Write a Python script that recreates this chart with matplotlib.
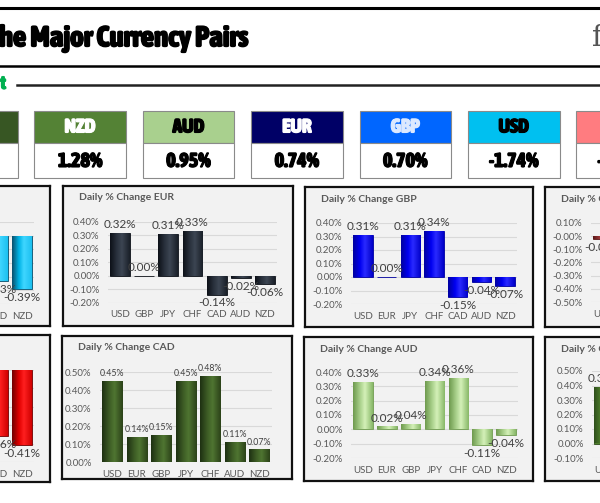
import numpy as np
import matplotlib
matplotlib.use('Agg')
import matplotlib.pyplot as plt
from matplotlib.colors import LinearSegmentedColormap
from matplotlib.patches import Rectangle
from matplotlib.lines import Line2D
from matplotlib import patheffects as pe
from matplotlib import font_manager as fm

W, H = 600, 503

# ---------------- data ----------------
title_text = "he Major Currency Pairs"
strength_names = ['CAD', 'NZD', 'AUD', 'EUR', 'GBP', 'USD', 'JPY']
strength_values = [1.85, 1.28, 0.95, 0.74, 0.70, -1.74, -1.80]

usd_pairs = ['EUR', 'GBP', 'JPY', 'CHF', 'CAD', 'AUD', 'NZD']
usd_changes = [-0.32, -0.31, 0.02, 0.01, -0.45, -0.33, -0.39]
eur_pairs = ['USD', 'GBP', 'JPY', 'CHF', 'CAD', 'AUD', 'NZD']
eur_changes = [0.32, 0.00, 0.31, 0.33, -0.14, -0.02, -0.06]
gbp_pairs = ['USD', 'EUR', 'JPY', 'CHF', 'CAD', 'AUD', 'NZD']
gbp_changes = [0.31, 0.00, 0.31, 0.34, -0.15, -0.04, -0.07]
jpy_pairs = ['USD', 'EUR', 'GBP', 'CHF', 'CAD', 'AUD', 'NZD']
jpy_changes = [-0.02, -0.31, -0.31, 0.02, -0.45, -0.34, -0.39]
chf_pairs = ['USD', 'EUR', 'GBP', 'JPY', 'CAD', 'AUD', 'NZD']
chf_changes = [-0.01, -0.33, -0.34, -0.02, -0.48, -0.36, -0.41]
cad_pairs = ['USD', 'EUR', 'GBP', 'JPY', 'CHF', 'AUD', 'NZD']
cad_changes = [0.45, 0.14, 0.15, 0.45, 0.48, 0.11, 0.07]
aud_pairs = ['USD', 'EUR', 'GBP', 'JPY', 'CHF', 'CAD', 'NZD']
aud_changes = [0.33, 0.02, 0.04, 0.34, 0.36, -0.11, -0.04]
nzd_pairs = ['USD', 'EUR', 'GBP', 'JPY', 'CHF', 'CAD', 'AUD']
nzd_changes = [0.39, 0.06, 0.07, 0.39, 0.41, -0.07, 0.04]

# ---------------- fonts ----------------
names = {f.name for f in fm.fontManager.ttflist}
BODY = 'Lato' if 'Lato' in names else 'DejaVu Sans'


def _w(f):
    w = f.weight
    if isinstance(w, str):
        w = fm.weight_dict.get(w, 400)
    return int(w)


def pick_condensed():
    best = None
    for f in fm.fontManager.ttflist:
        st = str(f.stretch).lower()
        nm = f.name.lower()
        fn = f.fname.lower().split('/')[-1]
        if 'mono' in nm or ('serif' in nm and 'sans' not in nm):
            continue
        if 'cjk' in nm:
            continue
        cond = ('condensed' in st and 'semi' not in st) or 'narrow' in nm or 'narrow' in fn \
            or ('condensed' in fn and 'semi' not in fn) or 'condensed' in nm
        if not cond:
            continue
        if 'italic' in fn or 'oblique' in fn or f.style != 'normal':
            continue
        score = -abs(_w(f) - 800)
        if best is None or score > best[0]:
            best = (score, f)
    return best[1] if best else None


_cf = pick_condensed()
if _cf is not None:
    COND = fm.FontProperties(fname=_cf.fname)
else:
    COND = fm.FontProperties(family='DejaVu Sans', weight='bold')


def cprops(size):
    p = COND.copy()
    p.set_size(size)
    if _cf is None:
        p.set_weight('bold')
    return p


def px_rect(x0, y0, x1, y1):
    return [x0 / W, 1 - y1 / H, (x1 - x0) / W, (y1 - y0) / H]


fig = plt.figure(figsize=(W / 100, H / 100), dpi=100)
fig.patch.set_facecolor('white')


def fx(x):
    return x / W


def fy(y):
    return 1 - y / H


# ---------------- header ----------------
fig.add_artist(Line2D([0, 1], [fy(8), fy(8)], color='black', lw=2.2))
fig.add_artist(Line2D([0, 1], [fy(66), fy(66)], color='black', lw=1.8))
fig.add_artist(Line2D([fx(17), 1], [fy(85), fy(85)], color='#222222', lw=1.8))
thick = [pe.withStroke(linewidth=0.9, foreground='black')]
fig.text(fx(249), fy(38), title_text, ha='right', va='center',
         fontproperties=cprops(21), color='black', path_effects=thick)
fig.text(fx(597), fy(38), 'f', ha='center', va='center', fontsize=21,
         family='DejaVu Serif', color='#555555')
fig.text(fx(6), fy(84), 't', ha='right', va='center', fontproperties=cprops(14),
         color='#00b050', path_effects=[pe.withStroke(linewidth=0.6, foreground='#00b050')])

# ---------------- strength boxes ----------------
box_colors = ['#375623', '#548235', '#a9d08e', '#000066', '#0066ff', '#00c0f0', '#ff7c80']
box_text_colors = ['white', 'white', 'black', 'white', '#dce9ff', 'black', 'black']
box_w = 91.5
for i, (nm, val) in enumerate(zip(strength_names, strength_values)):
    x0 = 34.4 + (i - 1) * 108.4
    x1 = x0 + box_w
    fig.add_artist(Rectangle((fx(x0), fy(143)), (x1 - x0) / W, 32 / H,
                             transform=fig.transFigure, facecolor=box_colors[i],
                             edgecolor='#8a8a8a', lw=0.8))
    fig.add_artist(Rectangle((fx(x0), fy(178)), (x1 - x0) / W, 35 / H,
                             transform=fig.transFigure, facecolor='white',
                             edgecolor='#8a8a8a', lw=0.8))
    tc = box_text_colors[i]
    fig.text(fx((x0 + x1) / 2), fy(127.5), nm, ha='center', va='center',
             fontproperties=cprops(14), color=tc,
             path_effects=[pe.withStroke(linewidth=0.8, foreground=tc)])
    fig.text(fx((x0 + x1) / 2), fy(161), f'{val:.2f}%', ha='center', va='center',
             fontproperties=cprops(14.5), color='black',
             path_effects=[pe.withStroke(linewidth=0.8, foreground='black')])

# ---------------- panels ----------------
grad = np.linspace(0, 1, 64)[None, :]


def make_cmap(cols):
    return LinearSegmentedColormap.from_list('g', list(zip([0, 0.35, 0.6, 1.0], cols)))


panels = [
    dict(title='Daily % Change USD', pairs=usd_pairs, vals=usd_changes,
         panel=(-180, 186, 50, 326), plot=(-134, 222, 34, 304), yl=(-0.5, 0.1),
         cols=['#0b4f6c', '#00b4e6', '#3fd6ff', '#1cc0f0'], ls=8.5),
    dict(title='Daily % Change EUR', pairs=eur_pairs, vals=eur_changes,
         panel=(63, 186, 293, 326), plot=(108, 221.7, 277, 302.7), yl=(-0.2, 0.4),
         cols=['#0d1118', '#2a323e', '#3c4552', '#1a2029'], ls=8.5),
    dict(title='Daily % Change GBP', pairs=gbp_pairs, vals=gbp_changes,
         panel=(305, 187, 533, 327), plot=(351, 223, 517, 304), yl=(-0.2, 0.4),
         cols=['#0000a0', '#0000f0', '#2a2aff', '#0000c8'], ls=8.5),
    dict(title='Daily % Change JPY', pairs=jpy_pairs, vals=jpy_changes,
         panel=(545, 187, 775, 327), plot=(591, 223, 757, 302), yl=(-0.5, 0.1),
         cols=['#5a1818', '#a03838', '#b85050', '#7a2626'], ls=8.5),
    dict(title='Daily % Change CHF', pairs=chf_pairs, vals=chf_changes,
         panel=(-180, 335, 50, 482), plot=(-134, 370, 34, 462), yl=(-0.5, 0.0),
         cols=['#700000', '#e00000', '#ff2020', '#d00000'], ls=8.5),
    dict(title='Daily % Change CAD', pairs=cad_pairs, vals=cad_changes,
         panel=(62, 336, 292, 479), plot=(100, 372, 271.5, 462), yl=(0.0, 0.5),
         cols=['#1e3012', '#3d5c25', '#4f7531', '#2c4219'], ls=6.3),
    dict(title='Daily % Change AUD', pairs=aud_pairs, vals=aud_changes,
         panel=(304, 337, 533, 481), plot=(351, 372, 518, 458), yl=(-0.2, 0.4),
         cols=['#6e9a4e', '#a8d08a', '#d4f0b8', '#88b868'], ls=8.5),
    dict(title='Daily % Change NZD', pairs=nzd_pairs, vals=nzd_changes,
         panel=(545, 337, 775, 481), plot=(592, 371, 759, 458), yl=(-0.1, 0.5),
         cols=['#2f4f1c', '#4f7f2c', '#5c8f36', '#3a6022'], ls=8.5),
]

for p in panels:
    x0, y0, x1, y1 = p['panel']
    bg = fig.add_axes(px_rect(x0, y0, x1, y1), zorder=1)
    bg.set_facecolor('#f2f2f2')
    bg.set_xticks([])
    bg.set_yticks([])
    for s in bg.spines.values():
        s.set_color('#111111')
        s.set_linewidth(1.6)
    fig.text(fx(x0 + 16), fy(y0 + 12), p['title'], ha='left', va='center',
             fontsize=7.5, fontweight='bold', family=BODY, color='#595959', zorder=5)

    ax = fig.add_axes(px_rect(*p['plot']), zorder=2)
    ax.set_facecolor('none')
    xs = np.arange(len(p['pairs']))
    cmap = make_cmap(p['cols'])
    bars = ax.bar(xs, p['vals'], width=0.82, color=p['cols'][1],
                  edgecolor=p['cols'][0], lw=0.6, zorder=2)
    for b, v in zip(bars, p['vals']):
        if v != 0:
            im = ax.imshow(grad, cmap=cmap, aspect='auto', zorder=3,
                           extent=(b.get_x(), b.get_x() + b.get_width(), min(0, v), max(0, v)))
            im.set_clip_path(b)
        off = 2.0 if v >= 0 else -2.0
        ax.annotate(f'{v:.2f}%', (b.get_x() + b.get_width() / 2, v),
                    xytext=(0, off), textcoords='offset points', ha='center',
                    va='bottom' if v >= 0 else 'top', fontsize=p['ls'],
                    family=BODY, color='#404040', annotation_clip=False, zorder=4)
    ax.set_xlim(-0.5, len(xs) - 0.5)
    ax.set_ylim(*p['yl'])
    ticks = np.round(np.arange(p['yl'][0], p['yl'][1] + 0.001, 0.1), 2)
    ax.set_yticks(ticks)
    ax.set_yticklabels([f'{t:.2f}%' for t in ticks])
    ax.set_xticks(xs)
    ax.set_xticklabels(p['pairs'])
    ax.tick_params(length=0, labelsize=7, labelcolor='#595959', pad=5.5)
    ax.tick_params(axis='y', pad=6)
    for t in ax.get_xticklabels() + ax.get_yticklabels():
        t.set_family(BODY)
    ax.yaxis.grid(True, color='#d9d9d9', lw=0.8)
    ax.set_axisbelow(True)
    for s in ax.spines.values():
        s.set_visible(False)

fig.savefig('out.png', dpi=100, facecolor='white')
